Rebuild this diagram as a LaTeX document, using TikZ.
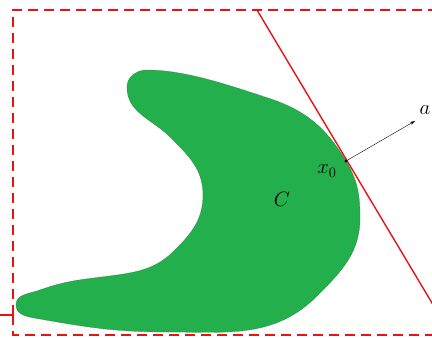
\documentclass[tikz,border=0pt]{standalone}
\usetikzlibrary{arrows.meta}
\definecolor{setgreen}{RGB}{35,176,76}
\definecolor{bordred}{RGB}{230,20,20}
\tikzset{
  bigmath/.style={font=\fontsize{21}{25}\selectfont, inner sep=1pt},
  boxline/.style={bordred, line width=1.8pt, dash pattern=on 10pt off 6pt},
  tangent/.style={bordred, line width=1.4pt},
  normalvec/.style={black, line width=0.4pt, -{Stealth[length=5pt,width=3pt]}}
}
\begin{document}
\begin{tikzpicture}[x=1pt,y=1pt]
\useasboundingbox (0,0) rectangle (432,338);
\fill[white] (0,0) rectangle (432,338);
% outline points of C
\coordinate (p1) at (127,251);
\coordinate (p2) at (147,268);
\coordinate (p3) at (268,240);
\coordinate (x0) at (346,177);
\coordinate (p5) at (360,120);
\coordinate (p6) at (317,42);
\coordinate (p7) at (167,6);
\coordinate (q1) at (40,19);
\coordinate (p8) at (16,33);
\coordinate (q2) at (40,48);
\coordinate (p9) at (117,63);
\coordinate (p10) at (175,88);
\coordinate (p11) at (203,143);
\coordinate (p12) at (170,201);
% set C
\fill[setgreen, draw=setgreen!70!black, line width=0.2pt]
 (p1) to[out=90,in=180] (p2)
 to[out=0,in=162,looseness=0.8] (p3)
 to[out=-18,in=121] (x0)
 to[out=-59,in=90] (p5)
 to[out=-90,in=45] (p6)
 to[out=-135,in=0] (p7)
 to[out=180,in=-10] (q1)
 to[out=170,in=-90] (p8)
 to[out=90,in=200] (q2)
 to[out=20,in=188] (p9)
 to[out=8,in=225] (p10)
 to[out=45,in=-90] (p11)
 to[out=90,in=-45] (p12)
 to[out=135,in=-90] (p1) -- cycle;
% dashed box
\coordinate (b1) at (13,23);
\draw[boxline] (b1) -- (13,328) -- (440,328);
\draw[boxline] (b1) -- (13,3) -- (440,3);
\draw[bordred, line width=1.8pt] (0,23) -- (b1);
% tangent line
\coordinate (t1) at (257,328);
\coordinate (t2) at (435,30);
\draw[tangent] (t1) -- (t2);
% point and normal
\coordinate (ahead) at (415,217);
\fill (x0) circle (1.6pt);
\draw[normalvec] (x0) -- (ahead);
\node[bigmath] (la) at (425,228) {$a$};
\node[bigmath] (lx) at (327,167) {$x_0$};
\node[bigmath] (lc) at (282,139) {$C$};
\end{tikzpicture}
\end{document}
